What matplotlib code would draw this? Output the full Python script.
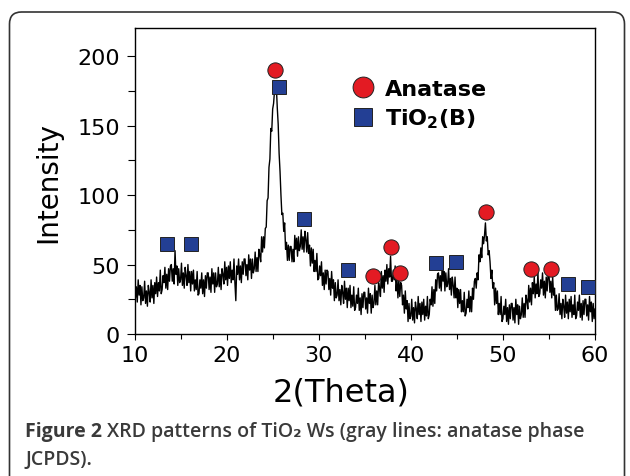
import numpy as np
import matplotlib
matplotlib.use('Agg')
import matplotlib.pyplot as plt
from matplotlib.patches import FancyBboxPatch
from matplotlib.transforms import IdentityTransform
from matplotlib.lines import Line2D

# XRD pattern, one value every 0.1 deg from 10 to 60
# (one row per degree)
intensity = [
    38, 26, 34, 23, 39, 28, 35, 21, 34, 24,
    26, 38, 22, 31, 20, 35, 30, 23, 39, 26,
    35, 22, 37, 29, 41, 27, 37, 31, 46, 29,
    32, 42, 37, 48, 33, 43, 32, 47, 38, 49,
    50, 38, 47, 36, 60, 43, 49, 35, 47, 37,
    39, 51, 35, 44, 33, 48, 42, 35, 50, 37,
    45, 31, 45, 36, 46, 31, 39, 32, 45, 28,
    29, 39, 33, 44, 29, 39, 27, 42, 33, 44,
    44, 32, 41, 30, 47, 36, 44, 30, 44, 34,
    36, 48, 34, 43, 32, 47, 43, 36, 52, 39,
    48, 35, 49, 40, 52, 37, 46, 39, 54, 37,
    24, 49, 43, 54, 39, 49, 37, 52, 43, 54,
    54, 42, 50, 39, 57, 46, 54, 40, 54, 44,
    47, 59, 45, 55, 45, 61, 57, 52, 70, 59,
    70, 62, 76, 77, 96, 98, 120, 126, 148, 146,
    162, 166, 175, 177, 178, 163, 151, 130, 117, 100,
    86, 87, 74, 80, 61, 66, 53, 64, 53, 63,
    63, 52, 61, 52, 71, 61, 69, 56, 70, 60,
    63, 75, 61, 70, 59, 74, 68, 59, 73, 58,
    64, 49, 62, 51, 61, 45, 53, 45, 58, 39,
    40, 49, 42, 52, 35, 44, 32, 46, 36, 46,
    45, 32, 40, 28, 45, 33, 39, 24, 37, 26,
    28, 39, 24, 32, 21, 35, 30, 22, 38, 25,
    33, 19, 33, 24, 35, 19, 28, 20, 34, 17,
    19, 28, 22, 33, 17, 26, 14, 29, 19, 30,
    30, 18, 26, 15, 33, 22, 29, 15, 28, 19,
    22, 35, 21, 31, 21, 37, 33, 27, 45, 33,
    42, 30, 46, 38, 50, 36, 47, 41, 56, 38,
    38, 46, 39, 49, 31, 39, 26, 39, 27, 37,
    35, 21, 28, 15, 31, 18, 24, 9, 22, 11,
    13, 25, 10, 19, 8, 23, 18, 11, 27, 14,
    22, 9, 23, 14, 25, 10, 20, 13, 27, 11,
    14, 25, 21, 34, 20, 32, 22, 39, 31, 43,
    44, 33, 42, 31, 49, 38, 45, 31, 44, 34,
    36, 47, 32, 40, 28, 41, 35, 26, 41, 26,
    33, 19, 32, 22, 32, 16, 24, 16, 30, 13,
    15, 25, 19, 31, 16, 27, 16, 33, 25, 38,
    40, 33, 44, 39, 57, 52, 62, 55, 70, 65,
    71, 80, 67, 70, 57, 60, 52, 40, 46, 33,
    37, 21, 33, 22, 31, 14, 22, 14, 27, 9,
    11, 20, 14, 25, 9, 19, 7, 21, 11, 22,
    22, 10, 19, 8, 25, 14, 21, 7, 20, 11,
    14, 26, 12, 22, 12, 28, 24, 18, 35, 23,
    33, 21, 37, 29, 41, 26, 36, 29, 44, 27,
    29, 39, 33, 44, 28, 38, 26, 41, 31, 43,
    43, 30, 38, 26, 41, 28, 33, 17, 28, 17,
    18, 29, 14, 22, 11, 25, 20, 12, 28, 15,
    23, 11, 25, 16, 27, 12, 21, 14, 28, 11,
    13, 23, 17, 28, 12, 22, 10, 24, 14, 25,
    25, 13, 21, 10, 27, 16, 23, 9, 22, 11,
    18,
]
two_theta = np.linspace(10, 60, len(intensity))

# phase markers
anatase_x = [25.3, 35.9, 37.8, 38.8, 48.2, 53.1, 55.2]
anatase_y = [190, 42, 63, 44, 88, 47, 47]
tio2b_x = [13.5, 16.1, 25.7, 28.4, 33.2, 42.7, 44.9, 57.1, 59.2]
tio2b_y = [65, 65, 178, 83, 46, 51, 52, 36, 34]

red = '#e31b23'
blue = '#233f94'

fig = plt.figure(figsize=(6.3, 4.77), dpi=100)
ax = fig.add_axes([0.2135, 0.2977, 0.731, 0.6405])

ax.plot(two_theta, intensity, color='black', lw=1.0, zorder=2)
ax.plot(anatase_x, anatase_y, 'o', ms=11, mfc=red, mec='#222222', mew=0.7, zorder=3)
ax.plot(tio2b_x, tio2b_y, 's', ms=10.5, mfc=blue, mec='#222222', mew=0.7, zorder=3)

ax.set_xlim(10, 60)
ax.set_ylim(0, 220)
ax.set_xticks([10, 20, 30, 40, 50, 60])
ax.set_xticks([15, 25, 35, 45, 55], minor=True)
ax.set_yticks([0, 50, 100, 150, 200])
ax.set_yticks([25, 75, 125, 175], minor=True)
ax.tick_params(axis='both', which='both', direction='out', width=0.8, labelsize=16)
ax.tick_params(axis='y', which='major', length=5.5, pad=5)
ax.tick_params(axis='y', which='minor', length=5)
ax.tick_params(axis='x', which='major', length=4, pad=4)
ax.tick_params(axis='x', which='minor', length=3.5)
for s in ax.spines.values():
    s.set_linewidth(1.0)

ax.set_xlabel('2(Theta)', fontsize=23)
ax.xaxis.set_label_coords(0.448, -0.138)
ax.set_ylabel('Intensity', fontsize=20)
ax.yaxis.set_label_coords(-0.157, 0.5)

handles = [
    Line2D([], [], ls='none', marker='o', ms=15, mfc=red, mec='#222222', mew=0.7),
    Line2D([], [], ls='none', marker='s', ms=13, mfc=blue, mec='#222222', mew=0.7),
]
ax.legend(handles, ['Anatase', r'TiO$_\mathbf{2}$(B)'], loc='upper left',
          bbox_to_anchor=(0.472, 0.836), frameon=False,
          prop={'weight': 'bold', 'size': 16}, handlelength=1.0,
          handletextpad=0.5, labelspacing=0.35, borderpad=0, borderaxespad=0)

# rounded frame around the figure panel
frame = FancyBboxPatch((9.5, -30), 615, 494, boxstyle='round,pad=0,rounding_size=12',
                       transform=IdentityTransform(), fill=False, ec='#333333', lw=1.2)
fig.add_artist(frame)

cap_font = ['Open Sans', 'DejaVu Sans']
cap_col = '#3a3a3a'
t1 = fig.text(25 / 630, 1 - 437 / 477, 'Figure 2', family=cap_font, weight='bold',
              fontsize=14, color=cap_col, va='baseline')
fig.canvas.draw()
bb = t1.get_window_extent()
fig.text((bb.x1 + 5) / 630, 1 - 437 / 477,
         'XRD patterns of TiO\u2082 Ws (gray lines: anatase phase',
         family=cap_font, weight='semibold', fontsize=14, color=cap_col, va='baseline')
fig.text(25 / 630, 1 - 465 / 477, 'JCPDS).', family=cap_font, weight='semibold',
         fontsize=14, color=cap_col, va='baseline')

fig.savefig('out.png', dpi=100)
